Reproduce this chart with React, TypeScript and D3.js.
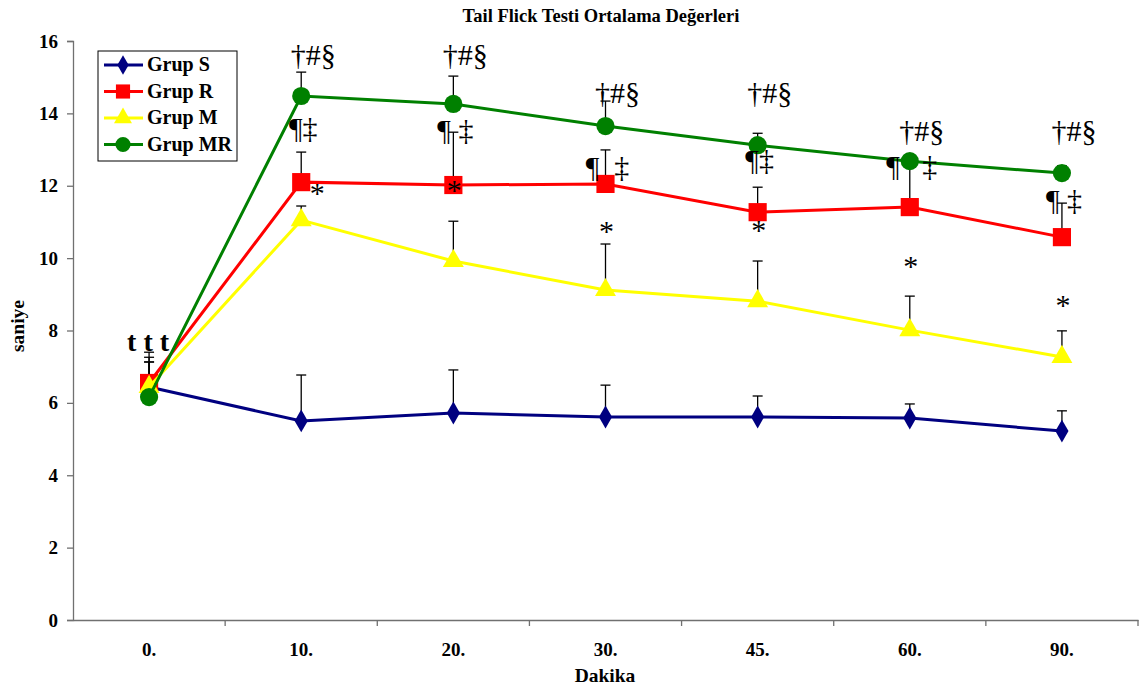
import React, { useEffect, useRef } from "react";
import { select, scaleBand, scaleLinear, axisLeft, axisBottom, line, symbol, symbolDiamond, symbolSquare, symbolTriangle, symbolCircle } from "d3";

const categories = ["0.", "10.", "20.", "30.", "45.", "60.", "90."];
const yTicks = [0, 2, 4, 6, 8, 10, 12, 14, 16];

const groupNames = ["Grup S", "Grup R", "Grup M", "Grup MR"];
const groupColors = ["#000080", "#ff0000", "#ffff00", "#008000"];

const grupS = [6.44, 5.5, 5.72, 5.61, 5.61, 5.58, 5.22];
const grupR = [6.55, 12.1, 12.02, 12.05, 11.27, 11.41, 10.58];
const grupM = [6.44, 11.05, 9.92, 9.12, 8.81, 8.01, 7.27];
const grupMR = [6.16, 14.48, 14.26, 13.65, 13.12, 12.68, 12.35];

// upper end of each error bar
const grupSHi = [7.13, 6.77, 6.91, 6.49, 6.19, 5.97, 5.78];
const grupRHi = [7.4, 12.93, 13.48, 12.99, 11.96, 12.8, 11.52];
const grupMHi = [7.13, 11.44, 11.02, 10.39, 9.92, 8.95, 7.99];
const grupMRHi = [7.26, 15.14, 15.03, 14.34, 13.45, 12.85, 12.55];

// significance marks and the level (in seconds) of their baseline
const mrMarks = ["", "†#§", "†#§", "†#§", "†#§", "†#§", "†#§"];
const mrMarkLevel = [0, 15.34, 15.34, 14.29, 14.29, 13.24, 13.24];
const rMarks = ["", "¶‡", "¶\u00a0‡", "¶\u00a0\u00a0‡", "¶‡", "¶\u00a0\u00a0\u00a0‡", "¶\u00a0‡"];
const rMarkLevel = [0, 13.32, 13.26, 12.24, 12.43, 12.27, 11.33];
const mMarks = ["", "\u00a0\u00a0\u00a0\u00a0*", "*", "*", "*", "*", "*"];
const mMarkLevel = [0, 11.52, 11.6, 10.47, 10.5, 9.5, 8.43];
const zeroMark = "t\u00a0t\u00a0t";
const zeroMarkLevel = 7.42;

const series = [grupS, grupR, grupM, grupMR];
const seriesHi = [grupSHi, grupRHi, grupMHi, grupMRHi];

const width = 1141;
const height = 693;
const font = "'Liberation Serif', 'Times New Roman', serif";
const axisColor = "#707070";

export default function App() {
  const ref = useRef<SVGSVGElement>(null);

  useEffect(() => {
    const svg = select(ref.current);
    svg.selectAll("*").remove();

    const margin = { top: 41, right: 3, bottom: 73, left: 73 };
    const innerW = width - margin.left - margin.right;
    const innerH = height - margin.top - margin.bottom;

    const x = scaleBand().domain(categories).range([0, innerW]).padding(0);
    const y = scaleLinear().domain([0, 16]).range([innerH, 0]);
    const cx = (i: number) => (x(categories[i]) as number) + x.bandwidth() / 2;

    svg
      .append("text")
      .attr("x", 601)
      .attr("y", 22)
      .attr("text-anchor", "middle")
      .attr("font-family", font)
      .attr("font-weight", "bold")
      .attr("font-size", 18.5)
      .text("Tail Flick Testi Ortalama Değerleri");

    const g = svg.append("g").attr("transform", `translate(${margin.left},${margin.top})`);

    const yAxisG = g.append("g").call(axisLeft(y).tickValues(yTicks).tickSize(6).tickPadding(9));
    yAxisG.selectAll("line, path").attr("stroke", axisColor).attr("stroke-width", 1.3);
    yAxisG
      .selectAll("text")
      .attr("font-family", font)
      .attr("font-weight", "bold")
      .attr("font-size", 19)
      .attr("fill", "#000");

    const xAxis = axisBottom(x).tickSize(0).tickPadding(23);
    const xAxisG = g.append("g").attr("transform", `translate(0,${innerH})`).call(xAxis);
    xAxisG.selectAll("path").attr("stroke", axisColor).attr("stroke-width", 1.3);
    xAxisG
      .selectAll("text")
      .attr("font-family", font)
      .attr("font-weight", "bold")
      .attr("font-size", 19)
      .attr("fill", "#000");
    xAxisG
      .selectAll(".band-tick")
      .data(categories.slice(1))
      .enter()
      .append("line")
      .attr("x1", (d) => x(d) as number)
      .attr("x2", (d) => x(d) as number)
      .attr("y1", 0)
      .attr("y2", 6)
      .attr("stroke", axisColor)
      .attr("stroke-width", 1.3);
    xAxisG
      .append("line")
      .attr("x1", innerW)
      .attr("x2", innerW)
      .attr("y1", 0)
      .attr("y2", 6)
      .attr("stroke", axisColor)
      .attr("stroke-width", 1.3);

    svg
      .append("text")
      .attr("x", 605)
      .attr("y", 682)
      .attr("text-anchor", "middle")
      .attr("font-family", font)
      .attr("font-weight", "bold")
      .attr("font-size", 19.5)
      .text("Dakika");

    svg
      .append("text")
      .attr("transform", `translate(24,326) rotate(-90)`)
      .attr("text-anchor", "middle")
      .attr("font-family", font)
      .attr("font-weight", "bold")
      .attr("font-size", 19.5)
      .text("saniye");

    // error bars (upper only)
    seriesHi.forEach((hi, s) => {
      hi.forEach((v, i) => {
        const xx = cx(i);
        g.append("line")
          .attr("x1", xx)
          .attr("x2", xx)
          .attr("y1", y(series[s][i]))
          .attr("y2", y(v))
          .attr("stroke", "#000")
          .attr("stroke-width", 1.3);
        g.append("line")
          .attr("x1", xx - 5)
          .attr("x2", xx + 5)
          .attr("y1", y(v))
          .attr("y2", y(v))
          .attr("stroke", "#000")
          .attr("stroke-width", 1.3);
      });
    });

    const shapes = [
      symbol().type(symbolDiamond).size(150),
      symbol().type(symbolSquare).size(330),
      symbol().type(symbolTriangle).size(190),
      symbol().type(symbolCircle).size(260),
    ];

    const lineGen = line<number>()
      .x((_, i) => cx(i))
      .y((d) => y(d));

    series.forEach((vals, s) => {
      g.append("path")
        .attr("d", lineGen(vals))
        .attr("fill", "none")
        .attr("stroke", groupColors[s])
        .attr("stroke-width", 3);
      g.selectAll(`.m${s}`)
        .data(vals)
        .enter()
        .append("path")
        .attr("transform", (d, i) => `translate(${cx(i)},${y(d)})`)
        .attr("d", shapes[s]())
        .attr("fill", groupColors[s]);
    });

    const markSets = [
      { texts: mrMarks, levels: mrMarkLevel, dx: 12 },
      { texts: rMarks, levels: rMarkLevel, dx: 2 },
      { texts: mMarks, levels: mMarkLevel, dx: 1 },
    ];
    markSets.forEach((m) => {
      m.texts.forEach((t, i) => {
        if (!t) return;
        g.append("text")
          .attr("x", cx(i) + m.dx)
          .attr("y", y(m.levels[i]))
          .attr("text-anchor", "middle")
          .attr("font-family", font)
          .attr("font-size", 30)
          .text(t);
      });
    });
    g.append("text")
      .attr("x", cx(0) - 1)
      .attr("y", y(zeroMarkLevel))
      .attr("text-anchor", "middle")
      .attr("font-family", font)
      .attr("font-weight", "bold")
      .attr("font-size", 28)
      .text(zeroMark);

    // legend
    const lg = svg.append("g").attr("transform", "translate(98,51)");
    lg.append("rect")
      .attr("width", 139)
      .attr("height", 110)
      .attr("fill", "#fff")
      .attr("stroke", "#000")
      .attr("stroke-width", 1);
    const legendShapes = [
      symbol().type(symbolDiamond).size(110),
      symbol().type(symbolSquare).size(200),
      symbol().type(symbolTriangle).size(140),
      symbol().type(symbolCircle).size(180),
    ];
    groupNames.forEach((name, s) => {
      const ly = 14 + s * 26.5;
      lg.append("line")
        .attr("x1", 6)
        .attr("x2", 45)
        .attr("y1", ly)
        .attr("y2", ly)
        .attr("stroke", groupColors[s])
        .attr("stroke-width", 3);
      lg.append("path")
        .attr("transform", `translate(25,${ly})`)
        .attr("d", legendShapes[s]())
        .attr("fill", groupColors[s]);
      lg.append("text")
        .attr("x", 49)
        .attr("y", ly + 6)
        .attr("font-family", font)
        .attr("font-weight", "bold")
        .attr("font-size", 20)
        .text(name);
    });
  }, []);

  return (
    <svg
      ref={ref}
      width={width}
      height={height}
      style={{ position: "absolute", left: 0, top: 0, background: "#fff" }}
    />
  );
}
